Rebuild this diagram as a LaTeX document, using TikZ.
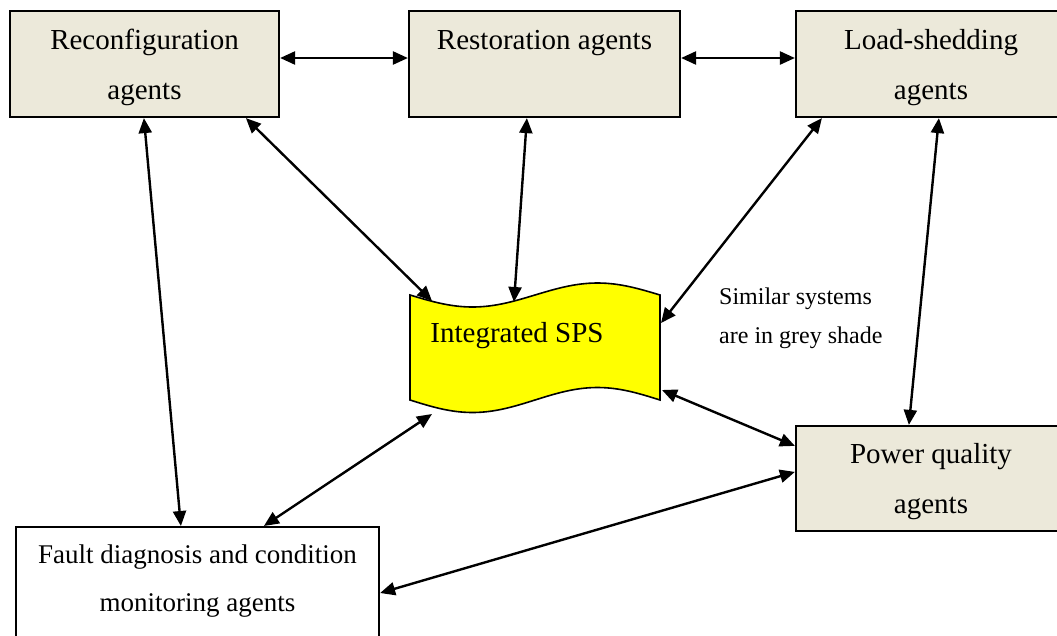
\documentclass[tikz,border=0pt]{standalone}
\usepackage{fontspec}
\setmainfont{Liberation Serif}
\usetikzlibrary{arrows.meta}
\definecolor{agentfill}{RGB}{236,233,218}
\definecolor{bannerfill}{RGB}{255,255,0}
\begin{document}
\begin{tikzpicture}[x=1pt,y=-1pt,
  agent/.style={draw=black, line width=2.2pt, fill=agentfill, minimum width=#1,
    minimum height=106pt, inner sep=0pt, align=center,
    font=\fontsize{29}{50}\selectfont},
  link/.style={line width=2.4pt,
    {Triangle[length=15pt,width=13pt]}-{Triangle[length=15pt,width=13pt]}},
  ]
\useasboundingbox (0,0) rectangle (1057,635);
\clip (0,0) rectangle (1057,635);

% agent boxes
\node[agent=269pt] (reconf) at (144.5,64) {\strut Reconfiguration\\\strut agents};
\node[agent=271pt] (resto) at (544.5,64) {\strut Restoration agents\\\strut};
\node[agent=270pt] (shed) at (931,64) {\strut Load-shedding\\\strut agents};
\node[agent=270pt, minimum height=105pt] (pq) at (931,478.5) {\strut Power quality\\\strut agents};
\node[draw=black, line width=2.2pt, fill=white, minimum width=363pt,
  minimum height=130pt, anchor=north] (fault) at (197.5,526) {};
\node[font=\fontsize{27}{48}\selectfont, align=center] (faulttext) at (197.5,578)
  {\strut Fault diagnosis and condition\\\strut monitoring agents};

% integrated system banner
\draw[fill=bannerfill, line width=1.6pt]
  (410,295) sin (472.5,307) cos (535,295) sin (597.5,283) cos (660,295)
  -- (660,400) sin (597.5,387.5) cos (535,400) sin (472.5,412.5) cos (410,400) -- cycle;
\node[font=\fontsize{29}{50}\selectfont] (sps) at (517,336) {Integrated SPS};
\coordinate (wa) at (432,301);
\coordinate (wb) at (514,302);
\coordinate (wc) at (661,323);
\coordinate (wd) at (662,390);
\coordinate (we) at (432,414);

\node[font=\fontsize{24}{39}\selectfont, align=left, anchor=west, inner sep=0pt]
  (note) at (719,316.5) {\strut Similar systems\\\strut are in grey shade};

% links
\draw[link] ([yshift=6pt]reconf.east) -- ([yshift=6pt]resto.west);
\draw[link] ([yshift=6pt]resto.east) -- ([yshift=6pt]shed.west);
\draw[link] ([xshift=135pt]reconf.south west) -- ([xshift=166pt]fault.north west);
\draw[link] ([xshift=237pt]reconf.south west) -- (wa);
\draw[link] ([xshift=119pt]resto.south west) -- (wb);
\draw[link] ([xshift=27pt]shed.south west) -- (wc);
\draw[link] ([xshift=144pt]shed.south west) -- ([xshift=114pt]pq.north west);
\draw[link] (wd) -- ([yshift=-21pt]pq.north west);
\draw[link] (we) -- ([xshift=249pt]fault.north west);
\draw[link] ([yshift=-47pt]pq.north west) -- ([yshift=-67pt]fault.north east);
\end{tikzpicture}
\end{document}
